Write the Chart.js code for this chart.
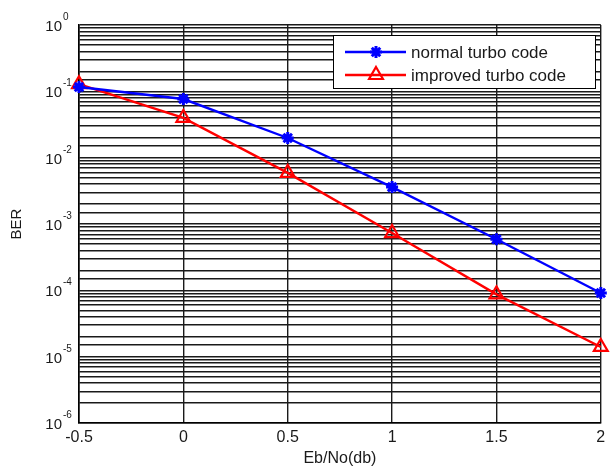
<!DOCTYPE html>
<html>
<head>
<meta charset="utf-8">
<script src="https://cdn.jsdelivr.net/npm/chart.js@4"></script>
<style>
  html, body { margin: 0; padding: 0; background: #fff; }
  #wrap { width: 611px; height: 468px; }
</style>
</head>
<body>
<div id="wrap"><canvas id="myChart"></canvas></div>
<script>
// values (BER vs Eb/No)
var ebno = [-0.5, 0, 0.5, 1, 1.5, 2];
var normalBer = [0.116, 0.0766, 0.0198, 0.0036, 0.00059, 0.000091];
var improvedBer = [0.128, 0.0397, 0.0059, 0.00073, 0.000087, 0.000014];
var seriesNames = ['normal turbo code', 'improved turbo code'];
var decades = [0, -1, -2, -3, -4, -5, -6]; // y tick labels are 10^k

var font = "'Liberation Sans', Arial, sans-serif";
var textColor = '#1a1a1a';

function pts(xs, ys) {
  return xs.map(function (x, i) { return { x: x, y: ys[i] }; });
}

// 10^k labels with a raised exponent, placed with the y scale
var powerLabels = {
  id: 'powerLabels',
  afterDraw: function (chart) {
    var c = chart.ctx, ys = chart.scales.y;
    c.save();
    c.fillStyle = textColor;
    decades.forEach(function (k) {
      var y = ys.getPixelForValue(Math.pow(10, k));
      c.font = '15px ' + font;
      c.textAlign = 'right';
      c.textBaseline = 'middle';
      c.fillText('10', 62, y + 2);
      c.font = '10px ' + font;
      c.textAlign = 'left';
      c.textBaseline = 'alphabetic';
      c.fillText(String(k), 63, y - 5);
    });
    c.restore();
  }
};

// legend box drawn inside the plot like the matlab one
var boxLegend = {
  id: 'boxLegend',
  afterDraw: function (chart) {
    var c = chart.ctx;
    var x0 = 333, y0 = 35, w = 262, h = 53;
    c.save();
    c.fillStyle = '#fff';
    c.fillRect(x0, y0, w, h);
    c.strokeStyle = '#000';
    c.lineWidth = 1;
    c.strokeRect(x0 + 0.5, y0 + 0.5, w, h);
    chart.data.datasets.forEach(function (ds, i) {
      var y = y0 + 17 + i * 23;
      c.strokeStyle = ds.borderColor;
      c.lineWidth = ds.borderWidth;
      c.beginPath();
      c.moveTo(345, y);
      c.lineTo(406, y);
      c.stroke();
      c.fillStyle = ds.backgroundColor;
      c.lineWidth = ds.pointBorderWidth;
      Chart.helpers.drawPoint(c, {
        pointStyle: ds.pointStyle, radius: ds.pointRadius, borderWidth: ds.pointBorderWidth,
        rotation: 0
      }, 376, y);
      c.fillStyle = textColor;
      c.font = '17px ' + font;
      c.textAlign = 'left';
      c.textBaseline = 'middle';
      c.fillText(ds.label, 411, y + 1);
    });
    c.restore();
  }
};

var ctx = document.getElementById('myChart').getContext('2d');
var myChart = new Chart(ctx, {
  type: 'line',
  data: {
    datasets: [{
      label: seriesNames[0],
      data: pts(ebno, normalBer),
      borderColor: '#0000ff',
      backgroundColor: '#0000ff',
      borderWidth: 2.4,
      pointStyle: 'star',
      pointRadius: 6,
      pointBorderWidth: 3,
      clip: false,
      fill: false
    }, {
      label: seriesNames[1],
      data: pts(ebno, improvedBer),
      borderColor: '#ff0000',
      backgroundColor: 'rgba(255,255,255,0)',
      borderWidth: 2.4,
      pointStyle: 'triangle',
      pointRadius: 8,
      pointBorderWidth: 2.2,
      clip: false,
      fill: false
    }]
  },
  options: {
    responsive: true,
    maintainAspectRatio: false,
    animation: false,
    layout: { padding: { top: 25, right: 7, left: 0, bottom: 0 } },
    plugins: { legend: { display: false }, tooltip: { enabled: false } },
    scales: {
      x: {
        type: 'linear',
        min: -0.5,
        max: 2,
        ticks: {
          stepSize: 0.5,
          padding: 5,
          color: textColor,
          font: { family: font, size: 16 },
          callback: function (v) { return String(v); }
        },
        grid: { color: '#1a1a1a', lineWidth: 1.4, drawTicks: false },
        border: { color: '#000', width: 1.6 },
        title: {
          display: true, text: 'Eb/No(db)', color: textColor,
          font: { family: font, size: 16 }, padding: { top: 0, bottom: 0 }
        },
        afterFit: function (s) { s.height = 45; }
      },
      y: {
        type: 'logarithmic',
        min: 1e-6,
        max: 1,
        ticks: {
          autoSkip: false,
          callback: function () { return ''; }
        },
        grid: { color: '#1a1a1a', lineWidth: 1.4, drawTicks: false },
        border: { color: '#000', width: 1.6 },
        title: {
          display: true, text: 'BER', color: textColor,
          font: { family: font, size: 15 }, padding: { top: 8, bottom: 0 }
        },
        afterFit: function (s) { s.width = 79; }
      }
    }
  },
  plugins: [powerLabels, boxLegend]
});
</script>
</body>
</html>
